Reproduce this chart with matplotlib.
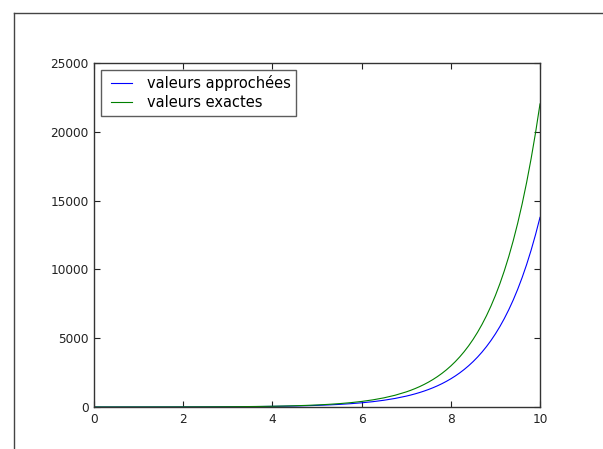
import matplotlib
matplotlib.use("Agg")
import matplotlib.pyplot as plt
from matplotlib.lines import Line2D
from matplotlib.legend_handler import HandlerLine2D

x_values = [0.0, 0.25, 0.5, 0.75, 1.0, 1.25, 1.5, 1.75, 2.0, 2.25, 2.5, 2.75, 3.0, 3.25, 3.5,
            3.75, 4.0, 4.25, 4.5, 4.75, 5.0, 5.25, 5.5, 5.75, 6.0, 6.25, 6.5, 6.75, 7.0,
            7.1, 7.2, 7.3, 7.4, 7.5, 7.6, 7.7, 7.8, 7.9, 8.0, 8.1, 8.2, 8.3, 8.4, 8.5, 8.6,
            8.7, 8.8, 8.9, 9.0, 9.1, 9.2, 9.3, 9.4, 9.5, 9.6, 9.7, 9.8, 9.9, 10.0]
approx_values = [1.0, 1.27, 1.61, 2.04, 2.59, 3.29, 4.18, 5.30, 6.73, 8.54, 10.8, 13.8, 17.4,
                 22.2, 28.1, 35.7, 45.3, 57.4, 72.9, 92.5, 117.4, 149.0, 189.1, 239.9, 304.5,
                 386.4, 490.4, 622.3, 789.7,
                 868.7, 955.6, 1051.2, 1156.3, 1271.9, 1399.1, 1539.0, 1692.9, 1862.2, 2048.4,
                 2253.2, 2478.6, 2726.4, 2999.1, 3299.0, 3628.9, 3991.8, 4390.9, 4830.0,
                 5313.0, 5844.3, 6428.8, 7071.6, 7778.8, 8556.7, 9412.3, 10353.6, 11388.9,
                 12527.8, 13780.6]
exact_values = [1.0, 1.28, 1.65, 2.12, 2.72, 3.49, 4.48, 5.75, 7.39, 9.49, 12.2, 15.6, 20.1,
                25.8, 33.1, 42.5, 54.6, 70.1, 90.0, 115.6, 148.4, 190.6, 244.7, 314.2, 403.4,
                518.0, 665.1, 854.1, 1096.6,
                1212.0, 1339.4, 1480.3, 1636.0, 1808.0, 1998.2, 2208.3, 2440.6, 2697.3, 2981.0,
                3294.5, 3641.0, 4023.9, 4447.1, 4914.8, 5431.7, 6002.9, 6634.2, 7332.0,
                8103.1, 8955.3, 9897.1, 10938.0, 12088.4, 13359.7, 14764.8, 16317.6, 18033.7,
                19930.4, 22026.5]
labels = ["valeurs approchées", "valeurs exactes"]
x_ticks = [0, 2, 4, 6, 8, 10]
y_ticks = [0, 5000, 10000, 15000, 20000, 25000]

W, H = 603, 449
fig = plt.figure(figsize=(W / 100, H / 100), dpi=100)

# outer frame lines (top and left)
fig.add_artist(Line2D([14 / W, 1.0], [1 - 13 / H, 1 - 13 / H], color="#444444", lw=1.0,
                      transform=fig.transFigure))
fig.add_artist(Line2D([14 / W, 14 / W], [0.0, 1 - 13 / H], color="#444444", lw=1.0,
                      transform=fig.transFigure))

left, right, top, bottom = 94, 540, 63, 407
ax = fig.add_axes([left / W, 1 - bottom / H, (right - left) / W, (bottom - top) / H])
l1, = ax.plot(x_values, approx_values, color="blue", lw=0.8, label=labels[0])
l2, = ax.plot(x_values, exact_values, color="green", lw=0.8, label=labels[1])
ax.set_xlim(0, 10)
ax.set_ylim(0, 25000)
ax.set_xticks(x_ticks)
ax.set_yticks(y_ticks)
ax.tick_params(direction="in", top=True, right=True, length=4, width=0.8,
               labelsize=8.75, colors="#222222", pad=4)
for s in ax.spines.values():
    s.set_color("#333333")
    s.set_linewidth(1.0)
hmap = {l1: HandlerLine2D(xpad=0.34), l2: HandlerLine2D(xpad=0.34)}
leg = ax.legend(loc="upper left", prop={"size": 10.5}, frameon=True, fancybox=False,
                edgecolor="#333333", borderaxespad=0.5, handlelength=1.78,
                handletextpad=1.03, borderpad=0.35, labelspacing=0.28, handler_map=hmap)
leg.get_frame().set_linewidth(1.0)

fig.savefig("out.png", dpi=100)
